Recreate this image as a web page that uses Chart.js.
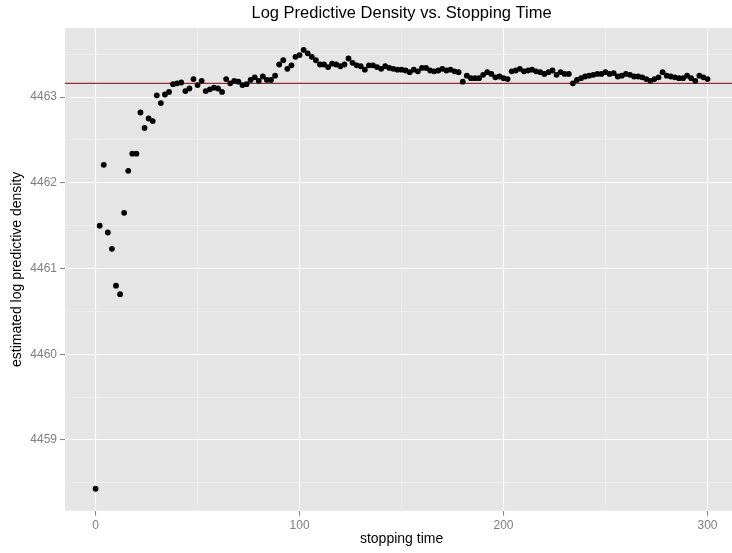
<!DOCTYPE html>
<html>
<head>
<meta charset="utf-8">
<title>Log Predictive Density vs. Stopping Time</title>
<script src="https://cdn.jsdelivr.net/npm/chart.js@4.4.1/dist/chart.umd.min.js"></script>
<style>
    html, body { margin: 0; padding: 0; background: #ffffff; overflow: hidden; }
    #wrap { width: 741px; height: 553px; }
</style>
</head>
<body>
<div id="wrap"><canvas id="lpdChart" width="741" height="553"></canvas></div>
<script>
// Stopping times (x) and estimated log predictive density (y)
const stoppingTimes = [
    0, 2, 4, 6, 8, 10, 12, 14, 16, 18, 20, 22, 24, 26, 28, 30, 32, 34, 36, 38,
    40, 42, 44, 46, 48, 50, 52, 54, 56, 58, 60, 62, 64, 66, 68, 70, 72, 74, 76, 78,
    80, 82, 84, 86, 88, 90, 92, 94, 96, 98, 100, 102, 104, 106, 108, 110, 112, 114, 116, 118,
    120, 122, 124, 126, 128, 130, 132, 134, 136, 138, 140, 142, 144, 146, 148, 150, 152, 154, 156, 158,
    160, 162, 164, 166, 168, 170, 172, 174, 176, 178, 180, 182, 184, 186, 188, 190, 192, 194, 196, 198,
    200, 202, 204, 206, 208, 210, 212, 214, 216, 218, 220, 222, 224, 226, 228, 230, 232, 234, 236, 238,
    240, 242, 244, 246, 248, 250, 252, 254, 256, 258, 260, 262, 264, 266, 268, 270, 272, 274, 276, 278,
    280, 282, 284, 286, 288, 290, 292, 294, 296, 298, 300
];
const lpdValues = [
    4458.43, 4461.50, 4462.21, 4461.42, 4461.23, 4460.80, 4460.70, 4461.65, 4462.14, 4462.34,
    4462.34, 4462.82, 4462.64, 4462.75, 4462.72, 4463.02, 4462.93, 4463.03, 4463.06, 4463.15,
    4463.16, 4463.17, 4463.07, 4463.10, 4463.21, 4463.14, 4463.19, 4463.07, 4463.09, 4463.11,
    4463.10, 4463.06, 4463.21, 4463.16, 4463.19, 4463.18, 4463.14, 4463.15, 4463.20, 4463.23,
    4463.19, 4463.24, 4463.20, 4463.20, 4463.25, 4463.38, 4463.43, 4463.33, 4463.37, 4463.47,
    4463.49, 4463.55, 4463.51, 4463.47, 4463.43, 4463.38, 4463.38, 4463.35, 4463.39, 4463.38,
    4463.36, 4463.38, 4463.45, 4463.40, 4463.37, 4463.36, 4463.32, 4463.37, 4463.37, 4463.35,
    4463.33, 4463.36, 4463.34, 4463.33, 4463.32, 4463.32, 4463.31, 4463.29, 4463.32, 4463.30,
    4463.34, 4463.34, 4463.31, 4463.30, 4463.31, 4463.33, 4463.31, 4463.32, 4463.30, 4463.29,
    4463.18, 4463.25, 4463.22, 4463.22, 4463.22, 4463.26, 4463.29, 4463.27, 4463.23, 4463.24,
    4463.22, 4463.21, 4463.30, 4463.31, 4463.33, 4463.30, 4463.31, 4463.32, 4463.30, 4463.29,
    4463.27, 4463.29, 4463.31, 4463.26, 4463.29, 4463.27, 4463.27, 4463.16, 4463.20, 4463.22,
    4463.24, 4463.25, 4463.26, 4463.27, 4463.27, 4463.29, 4463.27, 4463.28, 4463.24, 4463.25,
    4463.27, 4463.26, 4463.24, 4463.24, 4463.23, 4463.21, 4463.19, 4463.21, 4463.23, 4463.29,
    4463.25, 4463.24, 4463.23, 4463.22, 4463.22, 4463.25, 4463.22, 4463.19, 4463.25, 4463.23,
    4463.21
];

// reference level drawn as a horizontal red line
const referenceLevel = 4463.16;

// axis limits and gridline positions
const xLimits = [-15, 315];
const yLimits = [4458.174, 4463.806];
const xGridValues = [0, 50, 100, 150, 200, 250, 300];
const xTickLabels = [0, 100, 200, 300];
const yGridValues = [4458.5, 4459, 4459.5, 4460, 4460.5, 4461, 4461.5, 4462, 4462.5, 4463, 4463.5];
const yTickLabels = [4459, 4460, 4461, 4462, 4463];

const FONT = "'Liberation Sans', Arial, Helvetica, sans-serif";
const tickGrey = '#7f7f7f';

const panelBackground = {
    id: 'panelBackground',
    beforeDraw(chart) {
        const { ctx, chartArea: a } = chart;
        ctx.save();
        ctx.fillStyle = '#e5e5e5';
        ctx.fillRect(a.left, a.top, a.right - a.left, a.bottom - a.top);
        ctx.restore();
    }
};

function gridColor(labels) {
    return c => (c.tick && labels.includes(c.tick.value)) ? '#ffffff' : '#f2f2f2';
}
function gridWidth(labels) {
    return c => (c.tick && labels.includes(c.tick.value)) ? 1.1 : 0.6;
}
function tickColor(labels) {
    return c => (c.tick && labels.includes(c.tick.value)) ? tickGrey : 'rgba(0,0,0,0)';
}

const points = stoppingTimes.map((t, i) => ({ x: t, y: lpdValues[i] }));

new Chart(document.getElementById('lpdChart'), {
    data: {
        datasets: [{
            type: 'scatter',
            data: points,
            backgroundColor: '#000000',
            borderWidth: 0,
            pointRadius: 2.9,
            pointHoverRadius: 2.9
        }, {
            type: 'line',
            data: [{ x: xLimits[0], y: referenceLevel }, { x: xLimits[1], y: referenceLevel }],
            borderColor: '#ff0000',
            borderWidth: 1.4,
            pointRadius: 0,
            fill: false
        }]
    },
    options: {
        responsive: false,
        animation: false,
        layout: { padding: 0 },
        plugins: {
            legend: { display: false },
            tooltip: { enabled: false },
            title: {
                display: true,
                fullSize: false,
                text: 'Log Predictive Density vs. Stopping Time',
                color: '#000000',
                font: { family: FONT, size: 16.5, weight: 'normal' },
                padding: { top: 3.9, bottom: 4.3 }
            }
        },
        scales: {
            x: {
                type: 'linear',
                min: xLimits[0],
                max: xLimits[1],
                afterBuildTicks: axis => { axis.ticks = xGridValues.map(v => ({ value: v })); },
                afterFit: axis => { axis.height = 42.3; },
                border: { display: false },
                grid: {
                    color: gridColor(xTickLabels),
                    lineWidth: gridWidth(xTickLabels),
                    tickColor: tickColor(xTickLabels),
                    tickLength: 5,
                    tickWidth: 1
                },
                ticks: {
                    autoSkip: false,
                    maxRotation: 0,
                    padding: 3,
                    color: tickGrey,
                    font: { family: FONT, size: 12 },
                    callback: v => xTickLabels.includes(v) ? String(v) : ''
                },
                title: {
                    display: true,
                    text: 'stopping time',
                    color: '#000000',
                    font: { family: FONT, size: 14 },
                    padding: { top: 0, bottom: 5.6 }
                }
            },
            y: {
                type: 'linear',
                min: yLimits[0],
                max: yLimits[1],
                afterBuildTicks: axis => { axis.ticks = yGridValues.map(v => ({ value: v })); },
                afterFit: axis => { axis.width = 65; },
                border: { display: false },
                grid: {
                    color: gridColor(yTickLabels),
                    lineWidth: gridWidth(yTickLabels),
                    tickColor: tickColor(yTickLabels),
                    tickLength: 5,
                    tickWidth: 1
                },
                ticks: {
                    autoSkip: false,
                    padding: 3,
                    color: tickGrey,
                    font: { family: FONT, size: 12 },
                    callback: v => yTickLabels.includes(v) ? String(v) : ''
                },
                title: {
                    display: true,
                    text: 'estimated log predictive density',
                    color: '#000000',
                    font: { family: FONT, size: 14 },
                    padding: { top: 8.6, bottom: 0 }
                }
            }
        }
    },
    plugins: [panelBackground]
});
</script>
</body>
</html>
